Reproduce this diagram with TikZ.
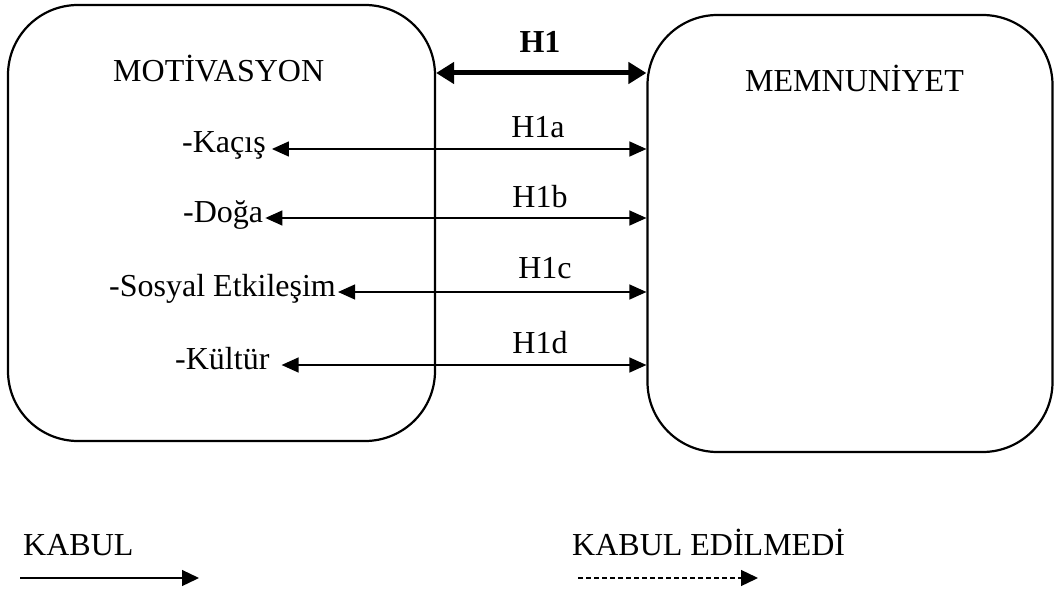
\documentclass[tikz,border=0pt]{standalone}
\usepackage{fontspec}
\setmainfont{Liberation Serif}
\usetikzlibrary{arrows.meta}
\usetikzlibrary{positioning}

\begin{document}
\begin{tikzpicture}[
    x=1pt, y=-1pt,
    box/.style={draw, line width=2.2pt, rounded corners=70pt, inner sep=0pt},
    txt/.style={inner sep=0pt, font=\fontsize{32}{38}\selectfont},
    item/.style={txt, anchor=base west, text height=20pt, text depth=12pt},
    link/.style={arrows={Triangle[length=17pt,width=15pt]-Triangle[length=17pt,width=15pt]}, line width=1.3pt},
    biglink/.style={arrows={Triangle[length=18pt,width=21pt]-Triangle[length=18pt,width=21pt]}, line width=5pt},
    legend/.style={arrows={-Triangle[length=17pt,width=16pt]}, line width=1.3pt}
    ]
    \useasboundingbox (0,0) rectangle (1054,591);

    \node[box, minimum width=427pt, minimum height=436pt] (motivasyon) at (221.5,223) {};
    \node[box, minimum width=405pt, minimum height=437pt] (memnuniyet) at (850,233.5) {};

    \node[txt, anchor=base west] (motitle) at (113,82) {MOTİVASYON};
    \node[txt, anchor=base west] (memtitle) at (745,92) {MEMNUNİYET};

    \node[item] (kacis) at (182,153) {-Kaçış};
    \node[item] (doga) at (183,222) {-Doğa};
    \node[item] (sosyal) at (109,296) {-Sosyal Etkileşim};
    \node[item] (kultur) at (175,369) {-Kültür};

    % main hypothesis
    \node[txt, font=\fontsize{32}{38}\selectfont\bfseries, anchor=base] (h1) at (540,53) {H1};
    \coordinate (h1row) at (540,73);
    \draw[biglink] (h1row -| motivasyon.east) -- (h1row -| memnuniyet.west);

    % sub hypotheses
    \draw[link, shorten <=6pt] (kacis.east) -- (kacis.east -| memnuniyet.west);
    \draw[link, shorten <=2pt] (doga.east) -- (doga.east -| memnuniyet.west);
    \draw[link, shorten <=2pt] (sosyal.east) -- (sosyal.east -| memnuniyet.west);
    \draw[link, shorten <=12pt] (kultur.east) -- (kultur.east -| memnuniyet.west);

    \node[txt, anchor=base] (h1a) at (538,137) {H1a};
    \node[txt, anchor=base] (h1b) at (540,207) {H1b};
    \node[txt, anchor=base] (h1c) at (545,278) {H1c};
    \node[txt, anchor=base] (h1d) at (540,353) {H1d};

    % legend
    \node[txt, anchor=base west] (kabul) at (23,555) {KABUL};
    \node[txt, anchor=base west] (red) at (572,555) {KABUL EDİLMEDİ};
    \coordinate (kabula) at (20,578);
    \coordinate (kabulb) at (199,578);
    \coordinate (reda) at (578,578);
    \coordinate (redb) at (758,578);
    \draw[legend] (kabula) -- (kabulb);
    \draw[legend, dash pattern=on 5pt off 3pt] (reda) -- (redb);

\end{tikzpicture}
\end{document}
